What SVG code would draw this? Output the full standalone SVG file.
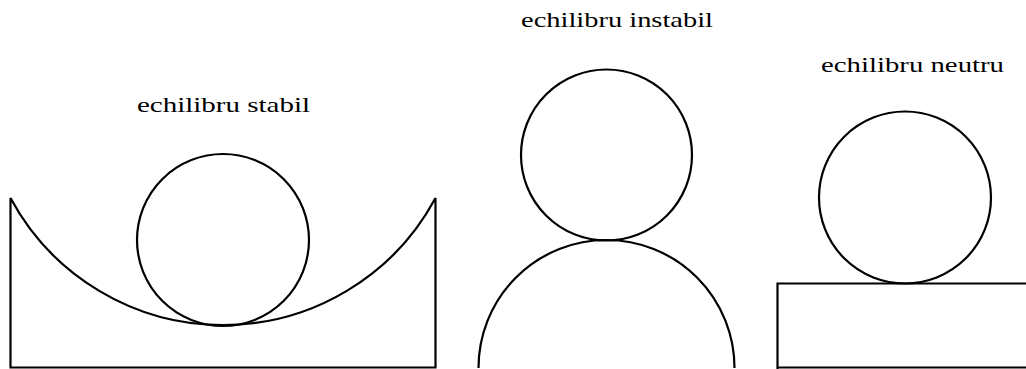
<svg xmlns="http://www.w3.org/2000/svg" width="1026" height="369" viewBox="0 0 1026 369">
<style>
.s{fill:none;stroke:#000;stroke-width:2.2}
.t{font-family:"Liberation Serif",serif;font-size:22px;fill:#000}
</style>
<rect width="1026" height="369" fill="#fff"/>
<g id="stabil">
<path class="s" d="M10.5,198 L10.5,367.5 L435.5,367.5 L435.5,198 A241.2,241.2 0 0 1 10.5,198 Z"/>
<circle class="s" cx="223" cy="240" r="86"/>
<text class="t" x="137" y="112" textLength="173" lengthAdjust="spacingAndGlyphs">echilibru stabil</text>
</g>
<g id="instabil">
<path class="s" d="M478.5,368 A128,128 0 0 1 734.5,368"/>
<circle class="s" cx="606.5" cy="155" r="85.5"/>
<text class="t" x="521" y="27" textLength="192" lengthAdjust="spacingAndGlyphs">echilibru instabil</text>
</g>
<g id="neutru">
<path class="s" d="M777.5,369 L777.5,283.5 L1030,283.5"/>
<line class="s" x1="777.5" y1="367.5" x2="1030" y2="367.5"/>
<circle class="s" cx="905" cy="197.5" r="86"/>
<text class="t" x="821" y="72" textLength="183" lengthAdjust="spacingAndGlyphs">echilibru neutru</text>
</g>
</svg>
